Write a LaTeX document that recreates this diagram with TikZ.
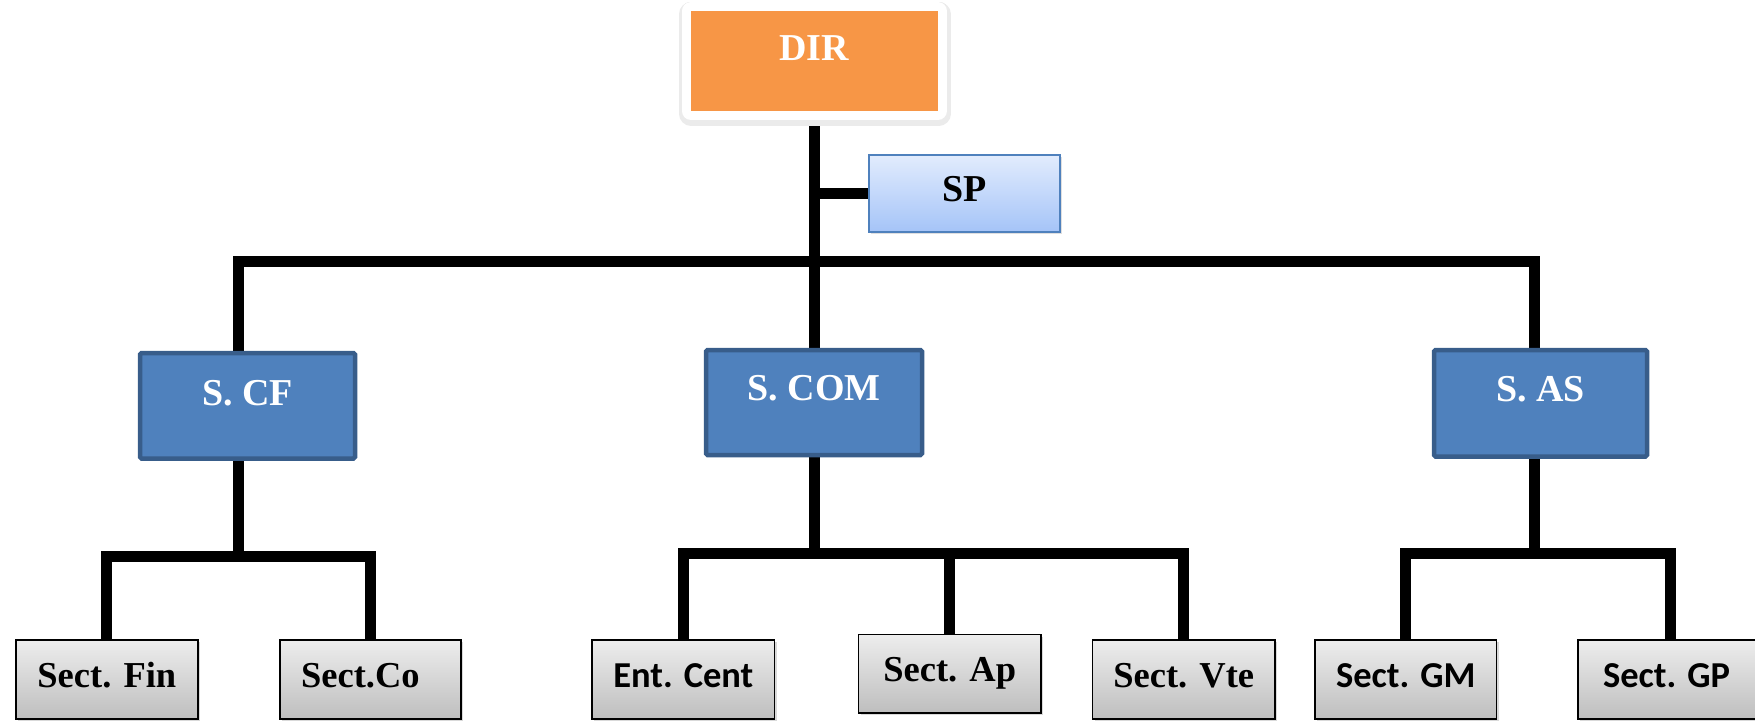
\documentclass[tikz,border=0pt]{standalone}
\usepackage{fontspec}
\setmainfont{Liberation Serif}
\newfontfamily\calibri{Carlito}
\usetikzlibrary{shadows,backgrounds}
\definecolor{dirorange}{HTML}{F79646}
\definecolor{sblue}{HTML}{4F81BD}
\definecolor{sbluedark}{HTML}{385D8A}
\definecolor{sptop}{HTML}{E2ECFD}
\definecolor{spbot}{HTML}{A5C4F8}
\definecolor{spborder}{HTML}{4F81BD}
\definecolor{greytop}{HTML}{EDEDED}
\definecolor{greybot}{HTML}{BEBEBE}
\begin{document}
\begin{tikzpicture}[x=1pt,y=-1pt,
  every node/.style={inner sep=0pt, outer sep=0pt, font=\fontsize{38}{40}\selectfont\bfseries},
  small/.style={font=\fontsize{36.5}{40}\selectfont\bfseries},
  dims/.style n args={3}{minimum width=#1, text height=#2, text depth=#3, anchor=north west},
  dirbox/.style={fill=dirorange, text=white,
     preaction={draw=black!18, line width=22pt, line join=round, transform canvas={xshift=0.5pt, yshift=-2pt}},
     preaction={draw=black!8, line width=24pt, line join=round, transform canvas={xshift=0.5pt, yshift=-3pt}},
     preaction={draw=white, line width=18pt, line join=round}},
  spbox/.style={top color=sptop, bottom color=spbot, draw=spborder, line width=2pt, text=black,
     drop shadow={shadow xshift=2pt, shadow yshift=-2pt, opacity=0.25}},
  sbox/.style={fill=sblue, draw=sbluedark, line width=4.5pt, text=white, rounded corners=1.5pt},
  gbox/.style={small, top color=greytop, bottom color=greybot, draw=black, line width=1.6pt, text=black,
     drop shadow={shadow xshift=2pt, shadow yshift=-2pt, opacity=0.3}},
  conn/.style={line width=11pt, line join=miter, draw=black}
]
\useasboundingbox (0,0) rectangle (1755,720);

% top level
\node[dims={247.4pt}{48.8pt}{50.8pt}, dirbox] (DIR) at (690.6,11.2) {DIR};
\node[dims={191.4pt}{46.5pt}{30.7pt}, spbox] (SP) at (868.6,154.5) {SP};

% second level
\node[dims={215pt}{52.5pt}{53pt}, sbox] (SCF) at (140,353) {S. CF};
\node[dims={216pt}{50pt}{55pt}, sbox] (SCOM) at (706,350) {S. COM};
\node[dims={213pt}{51.5pt}{55pt}, sbox] (SAS) at (1434,350) {S. AS};

% third level
\node[dims={182.3pt}{47.5pt}{31.5pt}, gbox] (Fin) at (15.7,640) {Sect. Fin};
\node[dims={181.2pt}{47.5pt}{31.5pt}, gbox] (Co) at (279.8,640) {Sect.Co\hspace*{20pt}};
\node[dims={182.6pt}{47.5pt}{31.5pt}, gbox] (Ent) at (592,640) {\calibri Ent. Cent};
\node[dims={182.5pt}{47pt}{31.4pt}, gbox] (Ap) at (858.5,634.6) {Sect. Ap};
\node[dims={182.5pt}{47.5pt}{31.5pt}, gbox] (Vte) at (1092.5,640) {Sect. Vte};
\node[dims={181.5pt}{47.5pt}{31.5pt}, gbox] (GM) at (1315,640) {\calibri Sect. GM};
\node[dims={185pt}{47.5pt}{31.5pt}, gbox] (GP) at (1578,640) {\calibri Sect. GP\hspace*{8pt}};

\coordinate (hL) at (238.4,261);
\coordinate (hR) at (1534.6,261);
\coordinate (lowA) at (0,556);
\coordinate (lowB) at (0,553);

\begin{pgfonlayer}{background}
  \draw[conn] (DIR.south) -- (DIR.south |- SCOM.north);
  \draw[conn] (DIR.south |- SP.west) -- (SP.west);
  \draw[conn] (hL |- SCF.north) -- (hL) -- (hR) -- (hR |- SAS.north);
  \draw[conn] (hL |- SCF.south) -- (hL |- lowA);
  \draw[conn] (Fin.north) -- (Fin.north |- lowA) -- (Co.north |- lowA) -- (Co.north);
  \draw[conn] (SCOM.south) -- (SCOM.south |- lowB);
  \draw[conn] (Ent.north) -- (Ent.north |- lowB) -- (Vte.north |- lowB) -- (Vte.north);
  \draw[conn] (Ap.north) -- (Ap.north |- lowB);
  \draw[conn] (hR |- SAS.south) -- (hR |- lowB);
  \draw[conn] (GM.north) -- (GM.north |- lowB) -- (GP.north |- lowB) -- (GP.north);
\end{pgfonlayer}
\end{tikzpicture}
\end{document}
